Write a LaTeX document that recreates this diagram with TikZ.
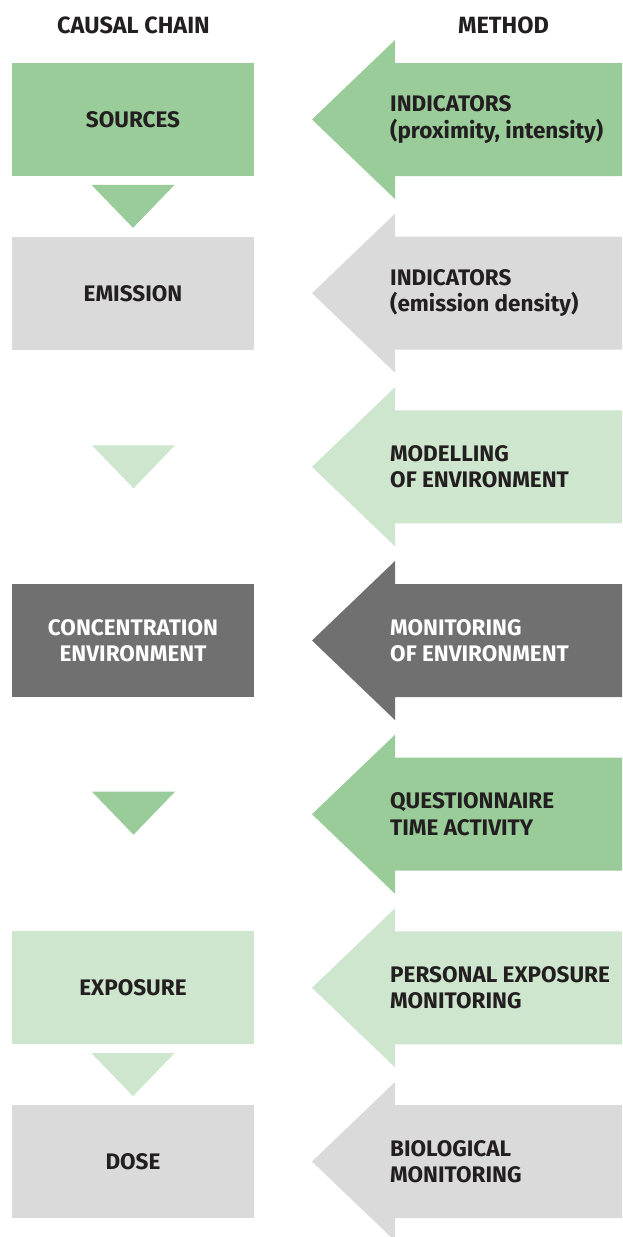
\documentclass[tikz,border=0pt]{standalone}
\usepackage{fontspec}
\setmainfont{Fira Sans}
\usetikzlibrary{positioning,calc}

\definecolor{midgreen}{RGB}{153,204,153}
\definecolor{lightgreen}{RGB}{205,230,205}
\definecolor{lightgrey}{RGB}{218,218,218}
\definecolor{darkgrey}{RGB}{112,112,112}
\definecolor{inktext}{RGB}{35,31,32}

\tikzset{
    labelfont/.style = {font=\bfseries\fontsize{22.5}{26.5}\selectfont},
    chainbox/.style = {rectangle, labelfont, align=center, text=inktext,
                       minimum width=242pt, minimum height=113pt, inner sep=0pt},
    methodtext/.style = {labelfont, anchor=west, align=left, text=inktext, inner sep=0pt},
    header/.style = {font=\bfseries\fontsize{23.5}{26.5}\selectfont, text=inktext, inner sep=0pt}
}

% arrow pointing left, #1 = colour, #2 = centre of the row
\newcommand{\methodarrow}[2]{%
    \fill[#1] (622,#2-56.5) -- (395,#2-56.5) -- (395,#2-79.5) -- (312,#2)
              -- (395,#2+79.5) -- (395,#2+56.5) -- (622,#2+56.5) -- cycle;}
% small triangle pointing down, #1 = colour, #2 = centre
\newcommand{\chaintri}[2]{%
    \fill[#1] ($(#2)+(-41.5,-21.5)$) -- ($(#2)+(41.5,-21.5)$) -- ($(#2)+(0,21.5)$) -- cycle;}

\begin{document}
\begin{tikzpicture}[x=1pt, y=-1pt]
            \useasboundingbox (0,0) rectangle (622,1237);

                        \node[header] (hchain) at (133.5,25) {CAUSAL CHAIN};
                        \node[header] (hmethod) at (503.5,25) {METHOD};

                        \node[chainbox, fill=midgreen] (sources) at (133,119.5) {SOURCES};
                        \node[chainbox, fill=lightgrey] (emission) at (133,293.2) {EMISSION};
                        \node[chainbox, fill=darkgrey, text=white] (concentration) at (133,640.5) {CONCENTRATION\\ENVIRONMENT};
                        \node[chainbox, fill=lightgreen] (exposure) at (133,987.8) {EXPOSURE};
                        \node[chainbox, fill=lightgrey] (dose) at (133,1161.5) {DOSE};

                        \coordinate (tri1) at ($(sources.south)!0.5!(emission.north)$);
                        \coordinate (tri2) at (133.5,466.8);
                        \coordinate (tri3) at (133.5,813.2);
                        \coordinate (tri4) at ($(exposure.south)!0.5!(dose.north)$);
                        \chaintri{midgreen}{tri1}
                        \chaintri{lightgreen}{tri2}
                        \chaintri{midgreen}{tri3}
                        \chaintri{lightgreen}{tri4}

                        \methodarrow{midgreen}{119.5}
                        \node[methodtext] (indprox) at (390,119.5) {INDICATORS\\(proximity, intensity)};

                        \methodarrow{lightgrey}{293.2}
                        \node[methodtext] (indemis) at (390,293.2) {INDICATORS\\(emission density)};

                        \methodarrow{lightgreen}{466.8}
                        \node[methodtext] (modelling) at (390,466.8) {MODELLING\\OF ENVIRONMENT};

                        \methodarrow{darkgrey}{640.5}
                        \node[methodtext, text=white] (monitoring) at (390,640.5) {MONITORING\\OF ENVIRONMENT};

                        \methodarrow{midgreen}{814.2}
                        \node[methodtext] (questionnaire) at (390,814.2) {QUESTIONNAIRE\\TIME ACTIVITY};

                        \methodarrow{lightgreen}{987.8}
                        \node[methodtext] (personal) at (390,987.8) {PERSONAL EXPOSURE\\MONITORING};

                        \methodarrow{lightgrey}{1161.5}
                        \node[methodtext] (biological) at (390,1161.5) {BIOLOGICAL\\MONITORING};
                    \end{tikzpicture}
\end{document}
